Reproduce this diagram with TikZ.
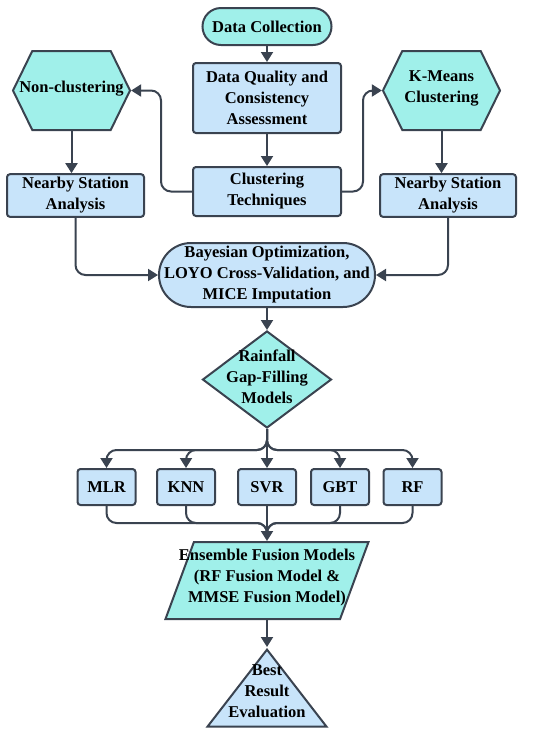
\documentclass[tikz,border=0pt]{standalone}
\usepackage{fontspec}
\setmainfont{Liberation Serif}
\usetikzlibrary{arrows.meta,positioning,shapes.geometric,shapes.misc,shapes.symbols}

\definecolor{flowedge}{HTML}{3A4350}
\definecolor{flowturq}{HTML}{A0F0EA}
\definecolor{flowblue}{HTML}{C8E4FA}

\begin{document}
\begin{tikzpicture}[
    x=1pt, y=-1pt,
    every node/.style={font=\bfseries\fontsize{16.5}{21}\selectfont, align=center, line width=2pt, draw=flowedge},
    block/.style={rectangle, rounded corners=3pt, fill=flowblue, minimum width=148pt, minimum height=49pt},
    pill/.style={rectangle, rounded corners=18.5pt, fill=flowturq, minimum width=129pt, minimum height=37pt},
    hexa/.style={signal, signal to=east and west, signal pointer angle=128, fill=flowturq, text height=38.5pt, text depth=38.5pt, minimum width=117pt, minimum height=79pt, inner sep=1pt},
    decision/.style={diamond, fill=flowturq, minimum width=129pt, minimum height=97pt, inner sep=1pt},
    model/.style={rectangle, rounded corners=3pt, fill=flowblue, minimum width=58pt, minimum height=36pt},
    fusionbox/.style={trapezium, trapezium left angle=79, trapezium right angle=101, trapezium stretches=true, fill=flowturq, minimum width=203pt, minimum height=77pt, inner sep=1pt},
    goal/.style={isosceles triangle, isosceles triangle stretches, shape border rotate=90, fill=flowblue, minimum width=119pt, minimum height=77pt, inner sep=1pt},
    txt/.style={draw=none, fill=none},
    arrow/.style={-{Triangle[length=10pt, width=12pt]}, draw=flowedge, line width=2pt, rounded corners=10pt},
    link/.style={draw=flowedge, line width=2pt, rounded corners=10pt}
]
\useasboundingbox (0,0) rectangle (550,732);

\node[pill] (collect) at (267,26.5) {Data Collection};
\node[block, minimum height=70pt] (quality) at (267,98) {Data Quality and\\Consistency\\Assessment};
\node[block] (cluster) at (267,191.5) {Clustering\\Techniques};
\node[hexa] (noclu) at (71.5,90.5) {};
\node[txt] (noclutxt) at (71.5,88.5) {Non-clustering};
\node[hexa] (kmeans) at (441.5,90.5) {};
\node[txt] (kmeanstxt) at (441.5,88.5) {K-Means\\Clustering};
\node[block, minimum width=137pt, minimum height=41pt] (nearl) at (75.5,195.5) {Nearby Station\\Analysis};
\node[block, minimum width=136pt, minimum height=41pt] (nearr) at (448,195.5) {Nearby Station\\Analysis};
\node[block, rounded corners=32pt, inner sep=1pt, minimum width=216pt, minimum height=64pt] (bayes) at (267,275) {Bayesian Optimization,\\LOYO Cross-Validation, and\\MICE Imputation};
\node[decision] (gap) at (267,379.5) {};
\node[txt] (gaptxt) at (267,377) {Rainfall\\Gap-Filling\\Models};
\node[model] (mlr) at (106.5,487) {MLR};
\node[model] (knn) at (186,487) {KNN};
\node[model] (svr) at (267,487) {SVR};
\node[model] (gbt) at (340,487) {GBT};
\node[model] (rf) at (412.5,487) {RF};
\node[fusionbox] (fusion) at (267,580.5) {};
\node[txt] (fusiontxt) at (267,578) {Ensemble Fusion Models\\(RF Fusion Model \&\\MMSE Fusion Model)};
\node[goal, anchor=apex] (best) at (267,647) {};
\node[txt] (besttxt) at (267,691) {Best\\Result\\Evaluation};
\coordinate (merge) at (267,523);

\draw[arrow] (collect) -- (quality);
\draw[arrow] (quality) -- (cluster);
\draw[arrow] (cluster.west) -- ++(-31,0) |- (noclu.east);
\draw[arrow] (cluster.east) -- ++(21,0) |- (kmeans.west);
\draw[arrow] (noclu.south) -- (noclu.south |- nearl.north);
\draw[arrow] (kmeans.south) -- (kmeans.south |- nearr.north);
\draw[arrow] (nearl.south) |- (bayes.west);
\draw[arrow] (nearr.south) |- (bayes.east);
\draw[arrow] (bayes) -- (gap);
\foreach \m in {mlr,knn,gbt,rf}
    \draw[arrow] (gap.south) -- ++(0,21) -| (\m.north);
\draw[arrow] (gap) -- (svr);
\foreach \m in {mlr,knn,gbt,rf}
    \draw[link] (\m.south) |- (merge) -- ++(0,8);
\draw[arrow] (svr) -- (fusion);
\draw[arrow] (fusion) -- (best);

\end{tikzpicture}
\end{document}
